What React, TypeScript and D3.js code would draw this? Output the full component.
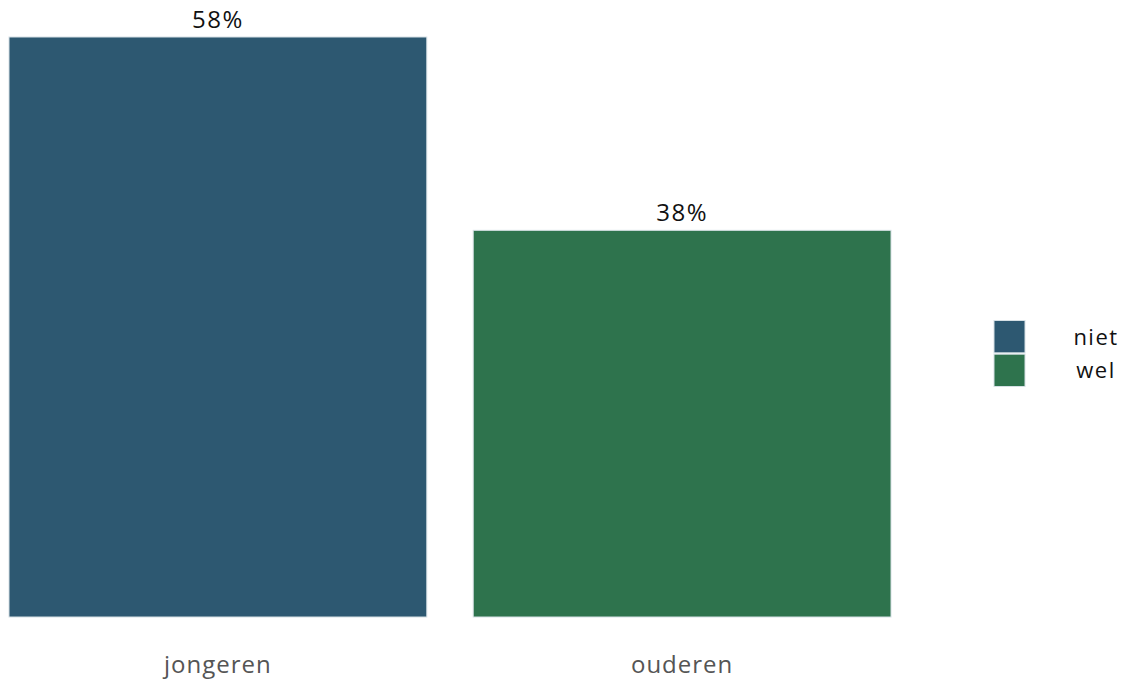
import React from "react";
import * as d3 from "d3";

const categories = ["jongeren", "ouderen"];
const values = [57.6, 38.4];
const legendLabels = ["niet", "wel"];
const colors = ["#2d5871", "#2e734d"];

const W = 1128;
const H = 681;
const FONT = "'Open Sans', 'DejaVu Sans', sans-serif";

export default function App() {
  const x = d3.scaleBand<string>().domain(categories).range([9, 891]).paddingInner(0.1).paddingOuter(0);
  const y = d3.scaleLinear().domain([0, d3.max(values) as number]).range([617, 37]);
  const legendY = d3.scaleBand<string>().domain(legendLabels).range([320.5, 386.5]).paddingInner(0.04);

  return (
    <svg width={W} height={H} style={{ position: "absolute", left: 0, top: 0, background: "#fff" }}>
      {categories.map((c, i) => (
        <g key={c}>
          <rect
            x={x(c)}
            y={y(values[i])}
            width={x.bandwidth()}
            height={y(0) - y(values[i])}
            fill={colors[i]}
            stroke="#d6e0e5"
            strokeWidth={1}
          />
          <text
            x={(x(c) as number) + x.bandwidth() / 2}
            y={y(values[i]) - 9}
            textAnchor="middle"
            fontFamily={FONT}
            fontSize={24}
            letterSpacing={1.5}
            fill="#111"
          >
            {Math.round(values[i]) + "%"}
          </text>
          <text
            x={(x(c) as number) + x.bandwidth() / 2}
            y={673}
            textAnchor="middle"
            fontFamily={FONT}
            fontSize={24}
            letterSpacing={1}
            fill="#555"
          >
            {c}
          </text>
        </g>
      ))}
      {legendLabels.map((l, i) => (
        <g key={l}>
          <rect
            x={994}
            y={legendY(l)}
            width={31}
            height={legendY.bandwidth()}
            fill={colors[i]}
            stroke="#d6e0e5"
            strokeWidth={1}
          />
          <text
            x={1096}
            y={(legendY(l) as number) + legendY.bandwidth() / 2 + 8}
            textAnchor="middle"
            fontFamily={FONT}
            fontSize={22}
            letterSpacing={1.5}
            fill="#111"
          >
            {l}
          </text>
        </g>
      ))}
    </svg>
  );
}
